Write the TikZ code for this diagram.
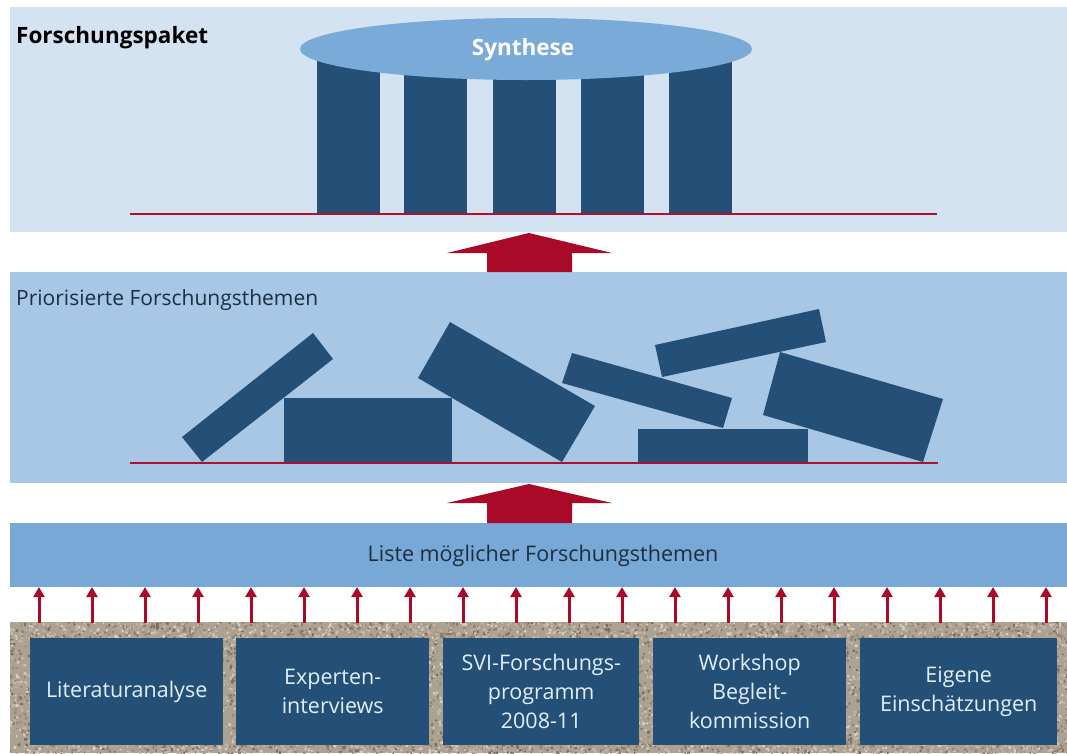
\documentclass[tikz,border=0pt]{standalone}
\usepackage{fontspec}
\setmainfont{Open Sans}
\usetikzlibrary{arrows.meta,shapes.geometric}
\definecolor{toppanel}{HTML}{D3E3F1}
\definecolor{midpanel}{HTML}{A8C7E4}
\definecolor{listband}{HTML}{78A8D5}
\definecolor{ellfill}{HTML}{7AAAD8}
\definecolor{darkblue}{HTML}{245078}
\definecolor{redline}{HTML}{B0102E}
\definecolor{redarrow}{HTML}{A80A28}
\definecolor{boxtext}{HTML}{E2EEF9}
\definecolor{labeltext}{HTML}{1C2E40}
\definecolor{gravelbase}{HTML}{ADA292}
\definecolor{gravel0}{HTML}{7A6E62}
\definecolor{gravel1}{HTML}{D6CEC2}
\definecolor{gravel2}{HTML}{958776}
\definecolor{gravel3}{HTML}{C3B8A8}
\newcommand\gravelstrip[5]{%
  \foreach \gcol in {0,1,2,3}{%
    \fill[gravel\gcol] foreach \gi in {1,...,#5} {({#1+#3*rnd},{#2+#4*rnd}) rectangle ++({1.3+1.6*rnd},{1.3+1.6*rnd})};
  }}
\tikzset{
  block/.style={fill=darkblue,draw=none},
  groundline/.style={draw=redline,line width=1.6pt},
  bigarrow/.style={fill=redarrow,draw=none},
  smallarrow/.style={draw=redarrow,line width=3pt,-{Triangle[width=11pt,length=10pt]}},
  srcbox/.style={fill=darkblue,draw=none,minimum width=193pt,minimum height=107pt,
     text=boxtext,align=center,font=\fontsize{21.5}{29}\selectfont,inner sep=0pt,anchor=north west},
  lbl/.style={inner sep=0pt,text=labeltext}
}
\begin{document}
\begin{tikzpicture}[x=1pt,y=-1pt]
\useasboundingbox (0,0) rectangle (1067,753);
\fill[white] (0,0) rectangle (1067,753);
% panels
\fill[toppanel] (10,7) rectangle (1067,232);
\fill[midpanel] (10,272) rectangle (1067,483);
\fill[listband] (10,523) rectangle (1067,587);
% gravel
\fill[gravelbase] (10,622) rectangle (1067,753);
\begin{scope}
\clip (10,622) rectangle (1067,753);
\pgfmathsetseed{7}
\gravelstrip{8}{620}{1060}{19}{380}
\gravelstrip{8}{743}{1060}{11}{220}
\gravelstrip{8}{636}{23}{110}{35}
\gravelstrip{220}{636}{17}{110}{25}
\gravelstrip{426}{636}{18}{110}{25}
\gravelstrip{637}{636}{17}{110}{25}
\gravelstrip{844}{636}{17}{110}{25}
\gravelstrip{1055}{636}{13}{110}{20}
\end{scope}
% title
\node[lbl,anchor=west,text=black,font=\fontsize{22.5}{26}\selectfont\bfseries] (title) at (16,38) {Forschungspaket};
% columns
\foreach \cx [count=\k] in {317,404,493,581,669}{
  \fill[block] (\cx,60) rectangle (\cx+63,214);
}
\node[ellipse,fill=ellfill,minimum width=452pt,minimum height=62pt,inner sep=0pt] (syn) at (526,49) {};
\node[lbl,text=white,font=\fontsize{22.5}{26}\selectfont\bfseries] (syntxt) at (523,50) {Synthese};
\coordinate (gl1a) at (130,214);
\coordinate (gl1b) at (937,214);
\draw[groundline] (gl1a) -- (gl1b);
% big arrow 1
\fill[bigarrow] (487,272) -- (487,253) -- (447,253) -- (529,233) -- (612,253) -- (572,253) -- (572,272) -- cycle;
% middle panel
\node[lbl,anchor=west,font=\fontsize{21}{24}\selectfont] (prio) at (16,300) {Priorisierte Forschungsthemen};
\fill[block] (182,437) -- (202,462) -- (333,359) -- (313,333) -- cycle;
\fill[block] (284,398) rectangle (452,463);
\fill[block] (450,322) -- (418,378) -- (562,462) -- (595,406) -- cycle;
\fill[block] (572,353) -- (562,383) -- (723,428) -- (732,398) -- cycle;
\fill[block] (655,345) -- (662,377) -- (826,342) -- (819,309) -- cycle;
\fill[block] (638,429) rectangle (808,463);
\fill[block] (780,352) -- (763,415) -- (923,462) -- (943,399) -- cycle;
\coordinate (gl2a) at (130,463);
\coordinate (gl2b) at (938,463);
\draw[groundline] (gl2a) -- (gl2b);
% big arrow 2
\fill[bigarrow] (487,523) -- (487,503) -- (447,503) -- (529,484) -- (612,503) -- (572,503) -- (572,523) -- cycle;
% list band
\node[lbl,font=\fontsize{21.5}{24}\selectfont] (liste) at (543,556) {Liste möglicher Forschungsthemen};
% small arrows
\foreach \i in {0,...,19}{
  \coordinate (sa\i) at (39+53*\i,623);
  \coordinate (sb\i) at (39+53*\i,587);
  \draw[smallarrow] (sa\i) -- (sb\i);
}
% source boxes
\node[srcbox] (b1) at (30,638) {Literaturanalyse};
\node[srcbox] (b2) at (236,638) {Experten-\\interviews};
\node[srcbox,minimum width=196pt] (b3) at (443,638) {SVI-Forschungs-\\programm\\2008-11};
\node[srcbox] (b4) at (653,638) {Workshop\\Begleit-\\kommission};
\node[srcbox,minimum width=197pt] (b5) at (860,638) {Eigene\\Einschätzungen};
\end{tikzpicture}
\end{document}
